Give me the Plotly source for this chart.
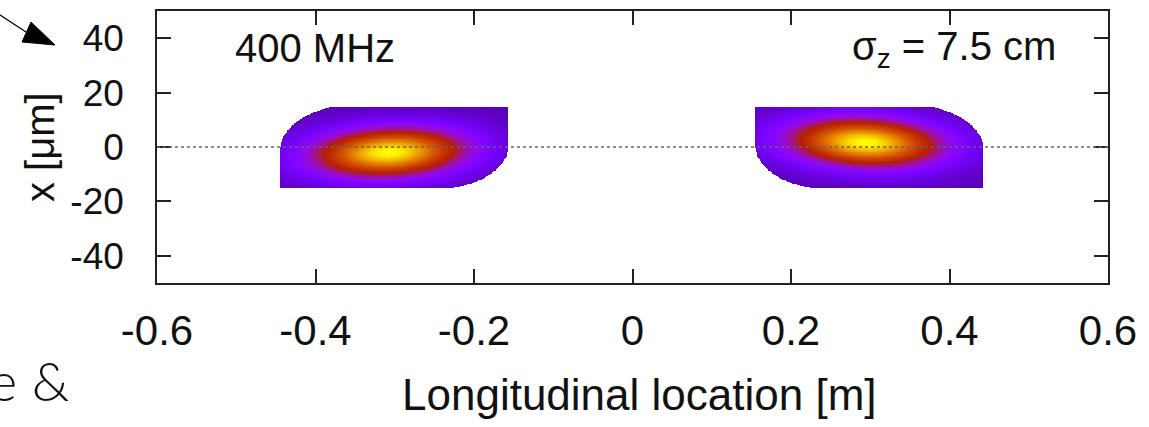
import numpy as np
import plotly.graph_objects as go

# ---------------- data ----------------
x_tick_vals = [-0.6, -0.4, -0.2, 0.0, 0.2, 0.4, 0.6]
x_tick_text = ["-0.6", "-0.4", "-0.2", "0", "0.2", "0.4", "0.6"]
y_tick_vals = [-40, -20, 0, 20, 40]
y_tick_text = ["-40", "-20", "0", "20", "40"]

bunch_center_z = [-0.300, 0.299]      # m   centre of each plotted bunch
bunch_side = [1, -1]                  # +1: left bunch, -1: mirrored right bunch
core_center_z = [-0.307, 0.294]       # m   position of the density peak
core_center_x = [-2.0, 1.6]           # um  transverse position of the peak
core_tilt = [12.0, -12.0]             # um/m tilt of the core
core_sigma_z = 0.062                  # m
core_sigma_x = 5.7                    # um
half_length = 0.144                   # m   longitudinal edge of the plotted bunch
half_width = 14.8                     # um  transverse edge of the plotted bunch
corner_start = 0.068                  # m   where the rounded corners begin
corner_len = 0.076                    # m
corner_width = 14.8                   # um
corner_power = 1.8
floor_level = 0.13                    # colour level at the bunch rim

# ---------------- gnuplot default palette (rgbformulae 7,5,15) ----------------
def gnuplot_scale(n=41):
    cs = []
    for i in range(n):
        t = i / (n - 1)
        r = np.sqrt(t)
        g = t ** 3
        b = max(0.0, np.sin(2 * np.pi * t))
        cs.append([t, "rgb(%d,%d,%d)" % (round(255 * r), round(255 * g), round(255 * b))])
    return cs

colorscale = gnuplot_scale()

fig = go.Figure()

dz = np.arange(-0.146, 0.14601, 0.001)
xs = np.arange(-15.6, 15.601, 0.3)
DZ, XX = np.meshgrid(dz, xs)

for zc, side, czc, cxc, tilt in zip(bunch_center_z, bunch_side, core_center_z,
                                     core_center_x, core_tilt):
    zabs = zc + DZ
    u = (zabs - czc) / core_sigma_z
    v = (XX - cxc - tilt * (zabs - czc)) / core_sigma_x
    val = floor_level + (1 - floor_level) * np.exp(-0.5 * (u ** 2 + v ** 2))
    w = side * DZ
    inside = (np.abs(DZ) <= half_length) & (np.abs(XX) <= half_width)
    a1 = np.clip((-w - corner_start) / corner_len, 0, None)
    b1 = np.clip(XX / corner_width, 0, None)
    a2 = np.clip((w - corner_start) / corner_len, 0, None)
    b2 = np.clip(-XX / corner_width, 0, None)
    cut = (a1 ** corner_power + b1 ** corner_power > 1) | (a2 ** corner_power + b2 ** corner_power > 1)
    inside &= ~cut
    zgrid = np.where(inside, np.round(val, 3), np.nan)
    zlist = [[(None if np.isnan(q) else float(q)) for q in row] for row in zgrid]
    fig.add_trace(go.Heatmap(
        x=np.round(zc + dz, 4).tolist(), y=np.round(xs, 3).tolist(), z=zlist,
        colorscale=colorscale, zmin=0, zmax=1, showscale=False,
        hoverinfo="skip", zsmooth=False,
    ))

FONT = "Liberation Sans, Arial, sans-serif"
AX = "#222222"

fig.update_layout(
    width=1149, height=427,
    margin=dict(l=157, r=41, t=11, b=144, autoexpand=False),
    paper_bgcolor="white", plot_bgcolor="white",
    showlegend=False,
    font=dict(family=FONT, color="#111111"),
    xaxis=dict(
        range=[-0.6, 0.6], tickvals=x_tick_vals, ticktext=x_tick_text,
        ticks="inside", ticklen=14, tickwidth=1.5, tickcolor=AX,
        showline=True, linecolor=AX, linewidth=1.5, mirror="ticks",
        showgrid=False, zeroline=False, automargin=False,
        tickfont=dict(size=42, family=FONT, color="#111111"),
        ticklabelstandoff=10,
    ),
    yaxis=dict(
        range=[-50, 50], tickvals=y_tick_vals, ticktext=y_tick_text,
        ticks="inside", ticklen=14, tickwidth=1.5, tickcolor=AX,
        showline=True, linecolor=AX, linewidth=1.5, mirror="ticks",
        showgrid=False, zeroline=False, automargin=False,
        tickfont=dict(size=37, family=FONT, color="#111111"),
        ticklabelstandoff=24,
    ),
)

# dotted zero axis
fig.add_shape(type="line", xref="paper", x0=0, x1=1, yref="y", y0=0, y1=0,
              line=dict(color="#666666", width=1.3, dash="dot"), layer="above")

def px_x(p):
    return (p - 157) / 951.0

def px_y(p):
    return (283 - p) / 272.0

# axis titles
fig.add_annotation(text="Longitudinal location [m]", xref="paper", yref="paper",
                   x=px_x(639), y=px_y(394), xanchor="center", yanchor="middle",
                   showarrow=False, font=dict(size=44, family=FONT, color="#111111"))
fig.add_annotation(text="x [μm]", xref="paper", yref="paper", textangle=-90,
                   x=px_x(40), y=px_y(147), xanchor="center", yanchor="middle",
                   showarrow=False, font=dict(size=40, family=FONT, color="#111111"))

# in-plot labels
fig.add_annotation(text="400 MHz", xref="paper", yref="paper",
                   x=px_x(233), y=px_y(48), xanchor="left", yanchor="middle",
                   showarrow=False, font=dict(size=40, family=FONT, color="#111111"))
fig.add_annotation(text="σ<sub>z</sub> = 7.5 cm", xref="paper", yref="paper",
                   x=px_x(1058), y=px_y(22), xanchor="right", yanchor="top",
                   showarrow=False, font=dict(size=40, family=FONT, color="#111111"))

# slide decorations: arrow at top-left and partial text at bottom-left
fig.add_shape(type="path", xref="paper", yref="paper", xsizemode="pixel", ysizemode="pixel",
              xanchor=0, yanchor=1, path="M-160,-2 L-131,-21",
              line=dict(color="black", width=1.3))
fig.add_shape(type="path", xref="paper", yref="paper", xsizemode="pixel", ysizemode="pixel",
              xanchor=0, yanchor=1, path="M-102,-34 L-126,-11 L-135,-31 Z",
              fillcolor="black", line=dict(color="black", width=1))
fig.add_annotation(text="e &amp;", xref="paper", yref="paper",
                   x=px_x(72), y=px_y(380), xanchor="right", yanchor="middle",
                   showarrow=False, font=dict(size=54, family="Lato", weight=300, color="#111111"))

fig.write_html("out.html", config={"displayModeBar": False},
               post_script="document.body.style.margin='0px';")
